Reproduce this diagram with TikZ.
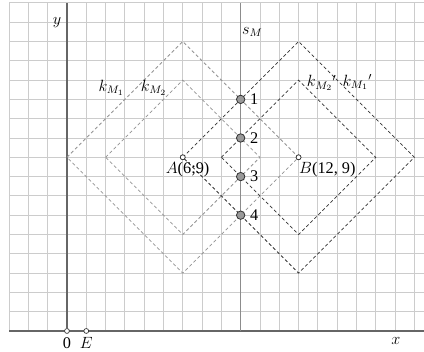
\documentclass[tikz,border=0pt]{standalone}
\usepackage{fontspec}
\setmainfont{Liberation Serif}
\usepackage{amsmath}
\usetikzlibrary{
    positioning
}
\tikzset{
    rejilla/.style={
        draw=gray!40,
        line width=0.6pt,
        step=0.5cm
    },
    eje/.style={
        draw=black!60,
        line width=0.9pt
    },
    rombo/.style={
        draw=gray!85,
        line width=0.55pt,
        dash pattern=on 2.4pt off 1.8pt
    },
    rombop/.style={
        rombo,
        draw=black!80
    },
    punto/.style={
        circle,
        draw=black!80,
        fill=gray!80,
        line width=0.6pt,
        inner sep=0pt,
        minimum size=6.2pt,
        label distance=-2.5pt
    },
    hueco/.style={
        circle,
        draw=black!80,
        fill=white,
        line width=0.5pt,
        inner sep=0pt,
        minimum size=3.6pt
    },
    every label/.style={font=\large},
    rotulo/.style={font=\large}
}

\begin{document}
\begin{tikzpicture}[
    x=0.5cm,
    y=0.5cm
]
    \useasboundingbox (-3.47,-1.04) rectangle (18.5,17.15);

    % Cuadrícula y ejes
    \draw[rejilla] (-3,0) grid (18.5,17);
    \coordinate (xi) at (-3,0);
    \coordinate (xf) at (18.5,0);
    \coordinate (ys) at (0,17);
    \draw[eje] (xi) -- (xf);

    % Centros
    \node[hueco] (O) at (0,0)  {};
    \node[hueco] (E) at (1,0)  {};
    \node[hueco] (A) at (6,9)  {};
    \node[hueco] (B) at (12,9) {};
    \draw[eje] (O) -- (ys);

    % Mediatriz
    \coordinate (s1) at (9,0);
    \coordinate (s2) at (9,17);
    \draw[eje, draw=black!45, line width=0.7pt] (s1) -- (s2);

    % Circunferencias de centro A
    \draw[rombo] (A.center) ++(-6,0) -- ++(6,6) -- ++(6,-6) -- ++(-6,-6) -- cycle;
    \draw[rombo] (A.center) ++(-4,0) -- ++(4,4) -- ++(4,-4) -- ++(-4,-4) -- cycle;

    % Circunferencias de centro B
    \draw[rombop] (B.center) ++(-6,0) -- ++(6,6) -- ++(6,-6) -- ++(-6,-6) -- cycle;
    \draw[rombop] (B.center) ++(-4,0) -- ++(4,4) -- ++(4,-4) -- ++(-4,-4) -- cycle;

    % Redibujar centros encima
    \node[hueco] at (A) {};
    \node[hueco] at (B) {};

    % Puntos de corte
    \node[punto, label=right:1] (p1) at (9,12) {};
    \node[punto, label=right:2] (p2) at (9,10) {};
    \node[punto, label=right:3] (p3) at (9,8)  {};
    \node[punto, label=right:4] (p4) at (9,6)  {};

    % Rótulos
    \node[rotulo, anchor=north, inner sep=1pt]      (lA) at (6.25,8.85)  {$A$(6;9)};
    \node[rotulo, anchor=north west, inner sep=1pt] (lB) at (11.95,8.85) {$B$(12, 9)};
    \node[rotulo] (l0) at (0,-0.62)    {0};
    \node[rotulo] (lE) at (1,-0.62)    {$E$};
    \node[rotulo] (lx) at (17.05,-0.52) {$x$};
    \node[rotulo] (ly) at (-0.52,16.0) {$y$};
    \node[rotulo] (ls) at (9.6,15.5)   {$s_M$};
    \node[rotulo] (k1) at (2.3,12.6)   {$k_{M_1}$};
    \node[rotulo] (k2) at (4.5,12.6)   {$k_{M_2}$};
    \node[rotulo] (k2p) at (13.2,12.85) {$k_{M_2}{}'$};
    \node[rotulo] (k1p) at (15.05,12.9) {$k_{M_1}{}'$};

\end{tikzpicture}
\end{document}
